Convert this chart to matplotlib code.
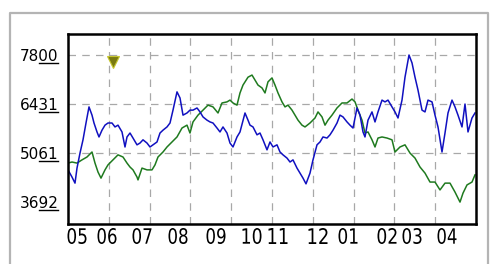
import numpy as np
import matplotlib.pyplot as plt
from matplotlib.lines import Line2D
from matplotlib.patches import PathPatch
from matplotlib.textpath import TextPath
from matplotlib.font_manager import FontProperties
from matplotlib.transforms import Affine2D

# trading-day index (0..408) and index level
blue_day = [0, 4, 7, 9, 12, 15, 18, 21, 24, 26, 29, 31, 34, 37, 40, 44, 47, 50, 54, 57,
            59, 62, 65, 69, 72, 75, 79, 82, 85, 89, 92, 95, 99, 102, 105, 109, 112, 115, 119, 122,
            125, 129, 132, 135, 139, 142, 145, 149, 152, 155, 159, 162, 165, 169, 172, 177, 180, 182, 185, 189,
            192, 195, 199, 202, 205, 209, 212, 215, 219, 222, 225, 229, 232, 235, 238, 242, 245, 249, 252, 255,
            259, 262, 265, 269, 272, 275, 279, 282, 285, 289, 292, 295, 297, 300, 304, 307, 310, 314, 317, 320,
            324, 327, 330, 334, 337, 341, 344, 347, 350, 354, 357, 360, 364, 367, 370, 374, 377, 380, 384, 387,
            390, 394, 397, 400, 404, 407]
blue_val = [4590, 4390, 4220, 4640, 5060, 5430, 5900, 6350, 6120, 5900, 5650, 5510, 5700, 5840, 5900, 5900, 5790, 5840, 5650, 5230,
            5510, 5620, 5480, 5290, 5340, 5430, 5340, 5230, 5290, 5370, 5620, 5700, 5790, 5900, 6260, 6770, 6600, 6120, 6180, 6260,
            6260, 6320, 6210, 6070, 5980, 5930, 5900, 5760, 5650, 5790, 5620, 5340, 5230, 5510, 5650, 6180, 5980, 5840, 5790, 5570,
            5620, 5430, 5150, 5370, 5230, 5290, 5090, 5010, 4920, 4810, 4870, 4640, 4500, 4360, 4200, 4500, 4870, 5290, 5370, 5510,
            5480, 5570, 5700, 5900, 6120, 6070, 5930, 5840, 5760, 6320, 6120, 5650, 5510, 5980, 6210, 5930, 6210, 6540, 6490, 6540,
            6350, 6210, 6040, 6540, 7180, 7800, 7580, 7180, 6820, 6260, 6210, 6540, 6490, 6120, 5790, 5090, 5620, 6180, 6540, 6350,
            6120, 5790, 6430, 5650, 6040, 6180]

green_day = [0, 4, 9, 14, 19, 24, 27, 30, 33, 37, 40, 45, 50, 55, 59, 62, 65, 69, 70, 74,
             79, 84, 87, 90, 95, 99, 104, 109, 114, 119, 122, 125, 130, 135, 140, 145, 150, 154, 159, 162,
             165, 169, 172, 175, 180, 184, 187, 190, 194, 197, 200, 204, 207, 210, 214, 217, 220, 224, 227, 230,
             234, 237, 242, 247, 250, 254, 257, 260, 264, 269, 274, 279, 284, 287, 290, 294, 297, 300, 304, 307,
             310, 314, 319, 324, 327, 332, 337, 342, 347, 352, 357, 362, 367, 372, 377, 382, 387, 392, 395, 399,
             404, 407]
green_val = [4780, 4810, 4780, 4870, 4950, 5090, 4780, 4530, 4360, 4590, 4730, 4870, 5010, 4950, 4780, 4670, 4590, 4390, 4310, 4640,
             4590, 4590, 4730, 4950, 5090, 5230, 5370, 5510, 5760, 5840, 5620, 5930, 6120, 6260, 6400, 6350, 6180, 6460, 6490, 6540,
             6460, 6400, 6740, 6960, 7180, 7240, 7100, 6960, 6880, 6740, 7050, 7160, 6960, 6740, 6490, 6350, 6400, 6260, 6120, 5980,
             5840, 5790, 5900, 6040, 6210, 6070, 5840, 5980, 6120, 6320, 6460, 6460, 6570, 6490, 6260, 5980, 5620, 5650, 5430, 5230,
             5480, 5510, 5480, 5430, 5090, 5230, 5290, 5060, 4920, 4670, 4500, 4250, 4250, 4030, 4220, 4220, 3970, 3690, 3940, 4170,
             4250, 4450]

month_day = [9, 39, 74, 110, 148, 184, 210, 250, 280, 319, 344, 379]
month_labels = ['05', '06', '07', '08', '09', '10', '11', '12', '01', '02', '03', '04']
level_ticks = [7800, 6431, 5061, 3692]
level_grid = [7800, 6431, 5061]
marker_day = [45]
marker_val = [7600]

fig = plt.figure(figsize=(4.9, 2.64), dpi=100)
fig.patch.set_facecolor('white')

# light grey outer panel frame: left, top and right sides only
fx = [10 / 490, 10 / 490, 488 / 490, 488 / 490]
fy = [0, 1 - 13 / 264, 1 - 13 / 264, 0]
fig.add_artist(Line2D(fx, fy, color='#b4b4b4', lw=1.6, transform=fig.transFigure))

ax = fig.add_axes([68 / 490, 40 / 264, 408 / 490, 190 / 264])
ax.plot(green_day, green_val, color='#1f7a1f', lw=1.1)
ax.plot(blue_day, blue_val, color='#1010c0', lw=1.1)
ax.plot(marker_day, marker_val, marker='v', ls='none', markersize=9,
        color='#7a7a10', markeredgecolor='#c8c830', markeredgewidth=0.8)

ax.set_xlim(0, 408)
ax.set_ylim(3078, 8387)

for v in level_grid:
    ax.axhline(v, color='#a8a8a8', lw=0.9, ls=(0, (6, 5)), zorder=0)
for k in range(1, 10):
    ax.axvline(408 / 10 * k, color='#a8a8a8', lw=0.9, ls=(0, (6, 5)), zorder=0)

ax.set_xticks([])
ax.set_yticks(level_ticks)
ax.set_yticklabels([str(v) for v in level_ticks], fontsize=11)
ax.tick_params(length=0)
ax.tick_params(axis='y', pad=7)
for s in ax.spines.values():
    s.set_linewidth(1.8)
    s.set_color('black')

# month labels: tall narrow digits, drawn as stretched text paths
prop = FontProperties(family='DejaVu Sans')
for d, lab in zip(month_day, month_labels):
    tp = TextPath((0, 0), lab, size=10, prop=prop)
    ext = tp.get_extents()
    sx = 19 / ext.width
    sy = 16 / ext.height
    xd = ax.transData.transform((d, 0))[0]
    tr = Affine2D().translate(-ext.x0 - ext.width / 2, -ext.y0).scale(sx, sy).translate(xd, 20)
    fig.add_artist(PathPatch(tp, transform=tr, color='black', lw=0))

# underline the last two digits of each level label
fig.canvas.draw()
r = fig.canvas.get_renderer()
for lab in ax.get_yticklabels():
    bb = lab.get_window_extent(r)
    x0 = (bb.x0 + bb.width / 2) / 490
    x1 = bb.x1 / 490
    y = (bb.y0 + 1) / 264
    fig.add_artist(Line2D([x0, x1], [y, y], color='black', lw=1.0, transform=fig.transFigure))

fig.savefig('out.png', dpi=100)
